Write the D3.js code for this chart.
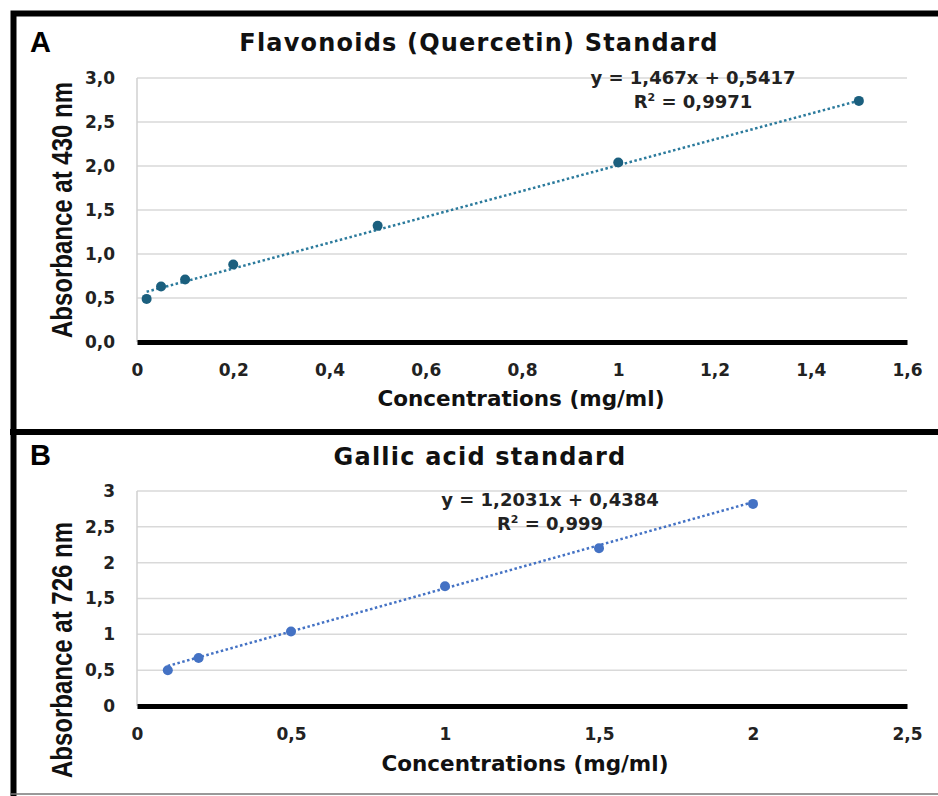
<!DOCTYPE html>
<html>
<head>
<meta charset="utf-8">
<script src="https://cdn.jsdelivr.net/npm/d3@7"></script>
<style>
  body { margin: 0; background: #fff; }
  svg { display: block; }
</style>
</head>
<body>
<div class="chart"></div>
<script>
const width = 938;
const height = 796;

// panel A - quercetin standard
const flavConc = [0.02, 0.05, 0.1, 0.2, 0.5, 1.0, 1.5];
const flavAbs = [0.49, 0.63, 0.71, 0.88, 1.32, 2.04, 2.74];
const flavXTicks = [0, 0.2, 0.4, 0.6, 0.8, 1, 1.2, 1.4, 1.6];
const flavYTicks = [0, 0.5, 1, 1.5, 2, 2.5, 3];
const flavFit = { slope: 1.467, intercept: 0.5417 };

// panel B - gallic acid standard
const gallicConc = [0.1, 0.2, 0.5, 1.0, 1.5, 2.0];
const gallicAbs = [0.50, 0.67, 1.04, 1.67, 2.20, 2.82];
const gallicXTicks = [0, 0.5, 1, 1.5, 2, 2.5];
const gallicYTicks = [0, 0.5, 1, 1.5, 2, 2.5, 3];
const gallicFit = { slope: 1.2031, intercept: 0.4384 };

const comma = s => String(s).replace(".", ",");
const boldFont = "DejaVu Sans, Verdana, sans-serif";

const svg = d3.select(".chart")
    .append("svg")
    .attr("width", width)
    .attr("height", height);

function drawPanel(p) {
    const g = svg.append("g");
    const data = p.x.map((d, i) => ({ x: d, y: p.y[i] }));

    const x = d3.scaleLinear().domain([0, p.xMax]).range([137, 907]);
    const y = d3.scaleLinear().domain([0, 3]).range([p.y0, p.y3]);

    // gridlines
    g.selectAll("line.grid")
        .data(p.yTicks.filter(d => d > 0))
        .enter()
        .append("line")
        .attr("x1", x(0)).attr("x2", x(p.xMax))
        .attr("y1", d => y(d)).attr("y2", d => y(d))
        .attr("stroke", "#d9d9d9")
        .attr("stroke-width", 1.5);

    g.append("line")
        .attr("x1", x(0)).attr("x2", x(0))
        .attr("y1", y(0)).attr("y2", y(3))
        .attr("stroke", "#d0d0d0")
        .attr("stroke-width", 1.5);

    // y tick labels
    g.append("g")
        .attr("transform", "translate(" + x(0) + ",0)")
        .call(d3.axisLeft(y).tickValues(p.yTicks).tickFormat(p.yFormat).tickSize(0).tickPadding(22))
        .call(a => a.select(".domain").remove())
        .selectAll("text")
        .attr("font-family", boldFont)
        .attr("font-weight", p.tickWeight)
        .attr("font-size", 17)
        .attr("fill", "#222");

    // x axis
    g.append("g")
        .attr("transform", "translate(0," + y(0) + ")")
        .call(d3.axisBottom(x).tickValues(p.xTicks).tickFormat(comma).tickSize(0).tickPadding(22))
        .call(a => a.select(".domain")
            .attr("stroke", "#000")
            .attr("stroke-width", 5))
        .selectAll("text")
        .attr("font-family", boldFont)
        .attr("font-weight", p.tickWeight)
        .attr("font-size", 17)
        .attr("fill", "#222");

    // trend line
    const x1 = d3.min(p.x), x2 = d3.max(p.x);
    g.append("line")
        .attr("x1", x(x1)).attr("y1", y(p.fit.slope * x1 + p.fit.intercept))
        .attr("x2", x(x2)).attr("y2", y(p.fit.slope * x2 + p.fit.intercept))
        .attr("stroke", p.lineColor)
        .attr("stroke-width", 2.5)
        .attr("stroke-dasharray", "2.5,2.5");

    g.selectAll("circle")
        .data(data)
        .enter()
        .append("circle")
        .attr("cx", d => x(d.x))
        .attr("cy", d => y(d.y))
        .attr("r", 5)
        .attr("fill", p.dotColor);

    // texts
    g.append("text")
        .attr("x", 30).attr("y", p.letterY)
        .attr("font-family", "Liberation Sans, Arial, sans-serif")
        .attr("font-weight", "bold")
        .attr("font-size", 29)
        .text(p.letter);

    g.append("text")
        .attr("x", p.titleX).attr("y", p.titleY)
        .attr("text-anchor", "middle")
        .attr("font-family", boldFont)
        .attr("font-weight", "bold")
        .attr("font-size", 24)
        .attr("letter-spacing", 1.2)
        .attr("fill", "#111")
        .text(p.title);

    // condensed y title
    g.append("text")
        .attr("transform", "translate(72," + p.yTitleY + ") rotate(-90) scale(0.8,1)")
        .attr("text-anchor", "middle")
        .attr("font-family", "Liberation Sans, Arial, sans-serif")
        .attr("font-weight", "bold")
        .attr("font-size", 30)
        .attr("fill", "#111")
        .text(p.yTitle);

    g.append("text")
        .attr("x", p.xTitleX).attr("y", p.xTitleY)
        .attr("text-anchor", "middle")
        .attr("font-family", boldFont)
        .attr("font-weight", "bold")
        .attr("font-size", 21.5)
        .attr("fill", "#111")
        .text("Concentrations (mg/ml)");

    const eq = g.append("text")
        .attr("text-anchor", "middle")
        .attr("font-family", boldFont)
        .attr("font-weight", "bold")
        .attr("font-size", 18)
        .attr("fill", "#222");
    eq.append("tspan")
        .attr("x", p.eqX).attr("y", p.eqY)
        .text("y = " + comma(p.fit.slope) + "x + " + comma(p.fit.intercept));
    const r2 = eq.append("tspan")
        .attr("x", p.eqX).attr("y", p.eqY + 24);
    r2.append("tspan").text("R");
    r2.append("tspan").attr("dy", -7).attr("font-size", 11).text("2");
    r2.append("tspan").attr("dy", 7).text(" = " + p.r2);
}

drawPanel({
    x: flavConc, y: flavAbs, xTicks: flavXTicks, yTicks: flavYTicks, fit: flavFit,
    xMax: 1.6, y0: 342, y3: 78,
    yFormat: d => d.toFixed(1).replace(".", ","),
    tickWeight: "bold",
    dotColor: "#1b5f7e", lineColor: "#2b7a9c",
    letter: "A", letterY: 52,
    title: "Flavonoids (Quercetin) Standard", titleX: 479, titleY: 51,
    yTitle: "Absorbance at 430 nm", yTitleY: 210,
    xTitleX: 521, xTitleY: 406,
    eqX: 693, eqY: 84, r2: "0,9971"
});

drawPanel({
    x: gallicConc, y: gallicAbs, xTicks: gallicXTicks, yTicks: gallicYTicks, fit: gallicFit,
    xMax: 2.5, y0: 706, y3: 491,
    yFormat: comma,
    tickWeight: 600,
    dotColor: "#4472c4", lineColor: "#4472c4",
    letter: "B", letterY: 465,
    title: "Gallic acid standard", titleX: 480, titleY: 465,
    yTitle: "Absorbance at 726 nm", yTitleY: 650,
    xTitleX: 525, xTitleY: 771,
    eqX: 550, eqY: 506, r2: "0,999"
});

// frame
svg.append("path")
    .attr("d", "M13.5,796 V13.5 H938")
    .attr("fill", "none")
    .attr("stroke", "#000")
    .attr("stroke-width", 6);
svg.append("line")
    .attr("x1", 10).attr("x2", 938)
    .attr("y1", 432).attr("y2", 432)
    .attr("stroke", "#000")
    .attr("stroke-width", 6);
svg.append("line")
    .attr("x1", 10).attr("x2", 938)
    .attr("y1", 794).attr("y2", 794)
    .attr("stroke", "#777")
    .attr("stroke-width", 1.5);
</script>
</body>
</html>
